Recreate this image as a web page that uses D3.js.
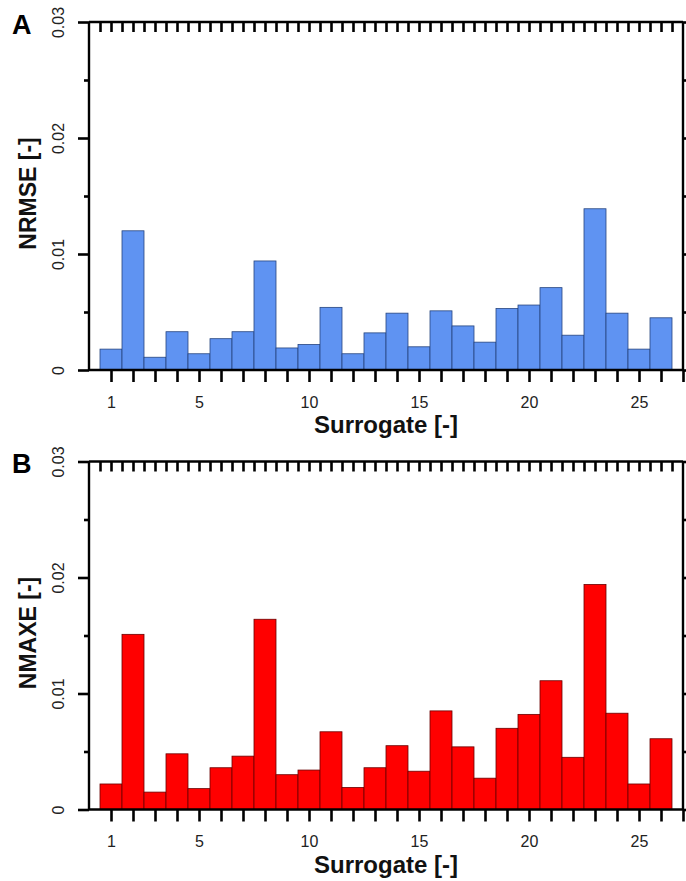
<!DOCTYPE html>
<html>
<head>
<meta charset="utf-8">
<script src="https://cdn.jsdelivr.net/npm/d3@7"></script>
<style>
  html, body { margin: 0; padding: 0; background: #fff; }
  svg { display: block; font-family: "Liberation Sans", Arial, sans-serif; }
</style>
</head>
<body>
<svg id="chart" width="686" height="881"></svg>
<script>
// ---- data ----
const surrogates = d3.range(1, 27);
const nrmse = [0.0018, 0.0120, 0.0011, 0.0033, 0.0014, 0.0027, 0.0033, 0.0094, 0.0019, 0.0022,
               0.0054, 0.0014, 0.0032, 0.0049, 0.0020, 0.0051, 0.0038, 0.0024, 0.0053, 0.0056,
               0.0071, 0.0030, 0.0139, 0.0049, 0.0018, 0.0045];
const nmaxe = [0.0022, 0.0151, 0.0015, 0.0048, 0.0018, 0.0036, 0.0046, 0.0164, 0.0030, 0.0034,
               0.0067, 0.0019, 0.0036, 0.0055, 0.0033, 0.0085, 0.0054, 0.0027, 0.0070, 0.0082,
               0.0111, 0.0045, 0.0194, 0.0083, 0.0022, 0.0061];
const xTickLabels = [1, 5, 10, 15, 20, 25];
const yMajorTicks = [0, 0.01, 0.02, 0.03];
const yMinorTicks = [0.005, 0.015, 0.025];
const panels = [
  { letter: "A", yTitle: "NRMSE [-]", values: nrmse, fill: "#5f93f2", stroke: "#27457f", offset: 0 },
  { letter: "B", yTitle: "NMAXE [-]", values: nmaxe, fill: "#ff0000", stroke: "#6a0000", offset: 439.5 }
];

const svg = d3.select("#chart");
const left = 89, right = 683, top0 = 22, bottom0 = 370;
const x = d3.scaleLinear().domain([0, 27]).range([left, right]);

panels.forEach(p => {
  const yTop = top0 + p.offset, yBot = bottom0 + p.offset;
  const y = d3.scaleLinear().domain([0, 0.03]).range([yBot, yTop]);
  const g = svg.append("g");

  // bars
  g.selectAll("rect.bar").data(p.values).join("rect")
    .attr("class", "bar")
    .attr("x", (d, i) => x(surrogates[i] - 0.5))
    .attr("width", (d, i) => x(surrogates[i] + 0.5) - x(surrogates[i] - 0.5))
    .attr("y", d => y(d))
    .attr("height", d => y(0) - y(d))
    .attr("fill", p.fill)
    .attr("stroke", p.stroke)
    .attr("stroke-width", 0.8);

  const styleAxis = sel => {
    sel.selectAll(".domain").remove();
    sel.selectAll(".tick line").attr("stroke", "#000").attr("stroke-width", 2.6);
    sel.selectAll(".tick text").style("fill", "#222").style("font-size", "16px")
      .style("font-family", "'Liberation Sans', Arial, sans-serif");
  };

  // bottom axis
  g.append("g").attr("transform", `translate(0,${yBot})`)
    .call(d3.axisBottom(x).tickValues(d3.range(1, 28)).tickSize(12).tickSizeOuter(0)
      .tickFormat(d => xTickLabels.includes(d) ? d : ""))
    .call(styleAxis)
    .call(s => s.selectAll(".tick text").attr("dy", 0).attr("y", 37.5));

  // top axis (ticks inward)
  g.append("g").attr("transform", `translate(0,${yTop})`)
    .call(d3.axisBottom(x).tickValues(d3.range(0.5, 27, 0.5)).tickSize(10).tickSizeOuter(0).tickFormat(""))
    .call(styleAxis)
    .call(s => s.selectAll(".tick").filter(d => d === 27 || d === 0).remove());

  // left axis
  g.append("g").attr("transform", `translate(${left},0)`)
    .call(d3.axisLeft(y).tickValues(yMajorTicks).tickSize(11).tickSizeOuter(0).tickFormat(d => d === 0 ? "0" : d3.format(".2f")(d)))
    .call(styleAxis)
    .call(s => s.selectAll(".tick text")
      .attr("x", null).attr("dy", null)
      .attr("text-anchor", "middle")
      .attr("transform", "translate(-25,0) rotate(-90)"));
  g.append("g").attr("transform", `translate(${left},0)`)
    .call(d3.axisLeft(y).tickValues(yMinorTicks).tickSize(5).tickFormat(""))
    .call(styleAxis);

  // right axis (ticks outward)
  g.append("g").attr("transform", `translate(${right},0)`)
    .call(d3.axisRight(y).tickValues(yMajorTicks).tickSize(10).tickFormat(""))
    .call(styleAxis);
  g.append("g").attr("transform", `translate(${right},0)`)
    .call(d3.axisRight(y).tickValues(yMinorTicks).tickSize(5).tickFormat(""))
    .call(styleAxis);

  // frame lines
  const frame = g.append("g").attr("stroke", "#000").attr("stroke-width", 2.4).attr("fill", "none");
  frame.append("line").attr("x1", left).attr("x2", left).attr("y1", yTop).attr("y2", yBot);
  frame.append("line").attr("x1", right).attr("x2", right).attr("y1", yTop).attr("y2", yBot);
  frame.append("line").attr("x1", left).attr("x2", right).attr("y1", yTop).attr("y2", yTop);
  frame.append("line").attr("x1", left).attr("x2", right).attr("y1", yBot).attr("y2", yBot);

  // panel letter
  g.append("text").attr("x", 12).attr("y", yTop + 11.5)
    .attr("font-size", 27).attr("font-weight", "bold").attr("fill", "#000").text(p.letter);

  // y title
  g.append("text")
    .attr("transform", `translate(36,${yTop + 171.5}) rotate(-90)`)
    .attr("text-anchor", "middle").attr("font-size", 23).attr("font-weight", "bold")
    .attr("fill", "#111").text(p.yTitle);

  // x title
  g.append("text").attr("x", (left + right) / 2).attr("y", yBot + 63)
    .attr("text-anchor", "middle").attr("font-size", 24).attr("font-weight", "bold")
    .attr("fill", "#111").text("Surrogate [-]");
});
</script>
</body>
</html>
